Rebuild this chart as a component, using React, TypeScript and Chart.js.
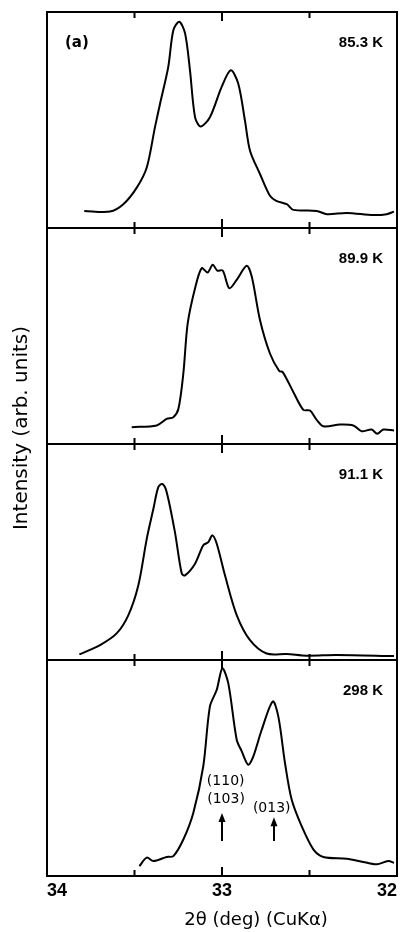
import React, { useEffect, useRef } from 'react';
import { Chart, registerables } from 'chart.js';
Chart.register(...registerables);

// ---- axis / labels ----
const xMin = 32;
const xMax = 34;
const innerTicks = [33.5, 33, 32.5];
const majorTick = 33;
const panelLabels = ['85.3 K', '89.9 K', '91.1 K', '298 K'];
const panelTag = '(a)';
const xTitle = '2\u03b8 (deg) (CuK\u03b1)';
const yTitle = 'Intensity (arb. units)';

// ---- 85.3 K ----
const x853 = [33.787, 33.64, 33.564, 33.487, 33.43, 33.383, 33.354, 33.307, 33.278, 33.244, 33.211, 33.183, 33.154, 33.122, 33.069, 33.002, 32.95, 32.907, 32.869, 32.84, 32.783, 32.726, 32.69, 32.63, 32.592, 32.459, 32.4, 32.287, 32.135, 32.059, 32.017];
const y853 = [7.9, 7.6, 11.0, 18.7, 28.0, 46.7, 57.5, 74.6, 91.6, 95.5, 90.1, 73.0, 51.3, 47.0, 51.3, 65.3, 73.0, 66.8, 49.8, 35.8, 25.0, 14.9, 12.6, 11.0, 8.4, 7.9, 6.4, 7.0, 6.0, 6.4, 7.6];

// ---- 89.9 K ----
const x899 = [33.516, 33.373, 33.316, 33.278, 33.249, 33.221, 33.196, 33.154, 33.116, 33.082, 33.053, 33.027, 32.996, 32.958, 32.916, 32.859, 32.83, 32.783, 32.726, 32.673, 32.653, 32.592, 32.535, 32.497, 32.459, 32.421, 32.326, 32.25, 32.202, 32.145, 32.113, 32.078, 32.017];
const y899 = [7.8, 8.6, 11.6, 12.4, 16.3, 32.6, 55.8, 72.1, 81.4, 79.4, 83.0, 80.3, 80.3, 72.1, 76.0, 82.5, 77.5, 57.4, 41.9, 33.8, 33.3, 24.0, 15.8, 15.5, 11.2, 8.2, 9.0, 8.6, 5.9, 6.7, 4.7, 6.7, 6.2];

// ---- 91.1 K ----
const x911 = [33.815, 33.697, 33.602, 33.535, 33.478, 33.43, 33.392, 33.364, 33.341, 33.316, 33.269, 33.23, 33.211, 33.154, 33.107, 33.078, 33.055, 33.03, 32.983, 32.916, 32.84, 32.745, 32.63, 32.516, 32.345, 32.017];
const y911 = [2.6, 6.9, 12.3, 20.8, 34.6, 56.1, 70.0, 80.0, 81.5, 77.7, 59.2, 40.0, 39.2, 44.6, 53.1, 54.6, 57.7, 53.8, 39.2, 20.8, 9.2, 3.0, 2.8, 2.0, 2.3, 1.8];

// ---- 298 K ----
const x298 = [33.472, 33.43, 33.392, 33.316, 33.278, 33.221, 33.164, 33.107, 33.069, 33.03, 32.998, 32.964, 32.916, 32.887, 32.85, 32.821, 32.773, 32.71, 32.678, 32.64, 32.602, 32.545, 32.478, 32.421, 32.287, 32.193, 32.116, 32.05, 32.017];
const y298 = [4.6, 8.5, 6.9, 8.8, 9.2, 16.9, 29.2, 50.8, 78.5, 86.2, 96.1, 89.2, 63.1, 57.7, 51.5, 55.4, 67.7, 80.8, 73.8, 52.3, 35.4, 23.1, 12.3, 8.8, 8.0, 6.5, 5.4, 6.9, 6.1];

// ---- reflection annotations (298 K panel) ----
const reflTexts = ['(110)', '(103)', '(013)'];
const reflX = [32.979, 32.977, 32.716];
const reflY = [43.8, 35.4, 31.5];
const arrowX = [33.0, 32.703];
const arrowTipY = [29.2, 27.2];
const arrowTailY = [16.2, 16.2];

const panelIds = ['y853', 'y899', 'y911', 'y298'];

function pts(xs: number[], ys: number[]) {
  return xs.map((x, i) => ({ x, y: ys[i] }));
}

const decorPlugin = {
  id: 'decor',
  afterDraw(chart: any) {
    const { ctx, chartArea } = chart;
    const xs = chart.scales.x;
    ctx.save();
    ctx.strokeStyle = '#000';
    ctx.fillStyle = '#000';
    ctx.lineWidth = 2;
    // frame
    ctx.strokeRect(chartArea.left, chartArea.top, chartArea.right - chartArea.left, chartArea.bottom - chartArea.top);
    panelIds.forEach((id, pi) => {
      const s = chart.scales[id];
      // divider
      ctx.beginPath();
      ctx.moveTo(chartArea.left, s.bottom);
      ctx.lineTo(chartArea.right, s.bottom);
      ctx.stroke();
      // inward ticks
      innerTicks.forEach((v) => {
        const px = xs.getPixelForValue(v);
        const len = v === majorTick ? 9 : 6;
        ctx.beginPath();
        ctx.moveTo(px, s.top);
        ctx.lineTo(px, s.top + len);
        ctx.moveTo(px, s.bottom);
        ctx.lineTo(px, s.bottom - len);
        ctx.stroke();
      });
      // panel label
      ctx.font = 'bold 15px "Liberation Sans"';
      ctx.textAlign = 'right';
      ctx.textBaseline = 'middle';
      ctx.fillText(panelLabels[pi], chartArea.right - 14, s.top + 31);
      if (pi === 0) {
        ctx.font = 'bold 15px "DejaVu Sans"';
        ctx.textAlign = 'left';
        ctx.fillText(panelTag, chartArea.left + 18, s.top + 31);
      }
    });
    // annotations in 298 K panel
    const s4 = chart.scales.y298;
    ctx.font = '14px "DejaVu Sans"';
    ctx.textAlign = 'center';
    ctx.textBaseline = 'middle';
    reflTexts.forEach((t, i) => {
      ctx.fillText(t, xs.getPixelForValue(reflX[i]), s4.getPixelForValue(reflY[i]));
    });
    arrowX.forEach((v, i) => {
      const px = xs.getPixelForValue(v);
      const tip = s4.getPixelForValue(arrowTipY[i]);
      const tail = s4.getPixelForValue(arrowTailY[i]);
      ctx.lineWidth = 2;
      ctx.beginPath();
      ctx.moveTo(px, tail);
      ctx.lineTo(px, tip + 6);
      ctx.stroke();
      ctx.beginPath();
      ctx.moveTo(px, tip);
      ctx.lineTo(px - 3.5, tip + 9);
      ctx.lineTo(px + 3.5, tip + 9);
      ctx.closePath();
      ctx.fill();
    });
    // axis titles
    ctx.font = '18px "DejaVu Sans"';
    ctx.textAlign = 'center';
    ctx.textBaseline = 'middle';
    ctx.fillText(xTitle, 256, 920);
    ctx.save();
    ctx.translate(22, 428);
    ctx.rotate(-Math.PI / 2);
    ctx.font = '20px "DejaVu Sans"';
    ctx.fillText(yTitle, 0, 0);
    ctx.restore();
    ctx.restore();
  },
};

function panelAxis() {
  return {
    type: 'linear' as const,
    position: 'left' as const,
    stack: 'panels',
    stackWeight: 1,
    min: 0,
    max: 100,
    display: false,
  };
}

export default function App() {
  const ref = useRef<HTMLCanvasElement | null>(null);
  useEffect(() => {
    if (!ref.current) return;
    const line = { borderColor: '#000', borderWidth: 2, pointRadius: 0, showLine: true, tension: 0.3, fill: false };
    const chart = new Chart(ref.current, {
      type: 'scatter',
      data: {
        datasets: [
          { ...line, label: '298 K', data: pts(x298, y298), yAxisID: 'y298' },
          { ...line, label: '91.1 K', data: pts(x911, y911), yAxisID: 'y911' },
          { ...line, label: '89.9 K', data: pts(x899, y899), yAxisID: 'y899' },
          { ...line, label: '85.3 K', data: pts(x853, y853), yAxisID: 'y853' },
        ],
      },
      options: {
        responsive: false,
        animation: false,
        devicePixelRatio: 1,
        layout: { padding: { left: 47, right: 4, top: 12, bottom: 26.4 } },
        plugins: { legend: { display: false }, tooltip: { enabled: false } },
        scales: {
          x: {
            type: 'linear',
            min: xMin,
            max: xMax,
            reverse: true,
            grid: { display: false, drawTicks: false },
            border: { display: false },
            afterBuildTicks: (scale: any) => {
              scale.ticks = scale.ticks.slice().reverse();
            },
            ticks: {
              stepSize: 1,
              align: 'inner',
              padding: 4,
              color: '#000',
              font: { family: '"Liberation Sans"', size: 18, weight: 'bold' },
            },
          },
          y298: panelAxis(),
          y911: panelAxis(),
          y899: panelAxis(),
          y853: panelAxis(),
        },
      },
      plugins: [decorPlugin],
    } as any);
    return () => chart.destroy();
  }, []);
  return (
    <div style={{ position: 'absolute', left: 0, top: 0, width: 401, height: 932, background: '#fff' }}>
      <canvas ref={ref} width={401} height={932} />
    </div>
  );
}
